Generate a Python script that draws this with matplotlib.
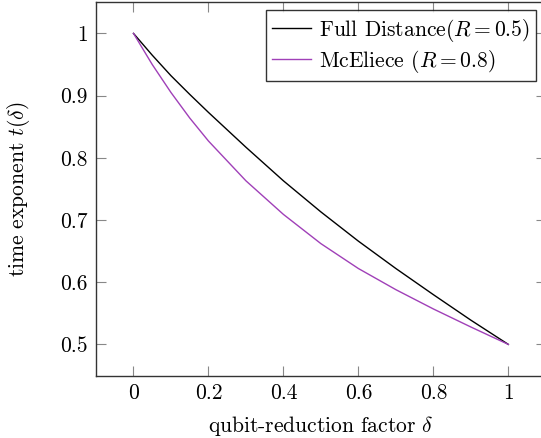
import matplotlib
matplotlib.use("Agg")
import matplotlib.pyplot as plt

# values
delta = [0.0, 0.05, 0.1, 0.15, 0.2, 0.3, 0.4, 0.5, 0.6, 0.7, 0.8, 0.9, 1.0]
t_full = [1.0, 0.965, 0.932, 0.902, 0.873, 0.817, 0.763, 0.713, 0.666, 0.622, 0.580, 0.539, 0.5]
t_mceliece = [1.0, 0.950, 0.905, 0.864, 0.827, 0.763, 0.709, 0.662, 0.622, 0.588, 0.557, 0.528, 0.5]

x_ticks = [0, 0.2, 0.4, 0.6, 0.8, 1]
x_tick_labels = ["0", "0.2", "0.4", "0.6", "0.8", "1"]
y_ticks = [0.5, 0.6, 0.7, 0.8, 0.9, 1.0]
y_tick_labels = ["0.5", "0.6", "0.7", "0.8", "0.9", "1"]

plt.rcParams["font.family"] = "serif"
plt.rcParams["font.serif"] = ["cmr10", "DejaVu Serif"]
plt.rcParams["mathtext.fontset"] = "cm"
plt.rcParams["axes.formatter.use_mathtext"] = True

FS = 15.5
W, H = 541, 438
fig = plt.figure(figsize=(W / 100, H / 100), dpi=100)
# axes box in pixels: left 96, right 546 (cropped by the figure edge), top 2, bottom 375
ax = fig.add_axes([96 / W, 1 - 375.5 / H, (545.8 - 96) / W, (375.5 - 2.3) / H])

ax.plot(delta, t_full, color="black", lw=1.0, label=r"Full Distance($R = 0.5$)")
ax.plot(delta, t_mceliece, color="#a040b8", lw=1.0, label=r"McEliece ($R = 0.8$)")

ax.set_xlim(-0.1, 1.1)
ax.set_ylim(0.45, 1.05)
ax.set_xticks(x_ticks, x_tick_labels)
ax.set_yticks(y_ticks, y_tick_labels)
ax.tick_params(direction="in", length=7, width=0.8, color="#888888",
               top=True, right=True, labelsize=FS, pad=6)
for s in ax.spines.values():
    s.set_linewidth(1.0)
    s.set_color("#333333")

ax.set_xlabel(r"qubit-reduction factor $\delta$", fontsize=FS, va="center")
ax.set_ylabel(r"time exponent $t(\delta)$", fontsize=FS, va="center")
ax.xaxis.set_label_coords(0.5, (375.5 - 426) / 373.2)
ax.yaxis.set_label_coords((18 - 96) / 449.8, 0.5)

leg = ax.legend(loc="upper right", bbox_to_anchor=(0.978, 0.979), borderaxespad=0,
                fontsize=FS, frameon=True, fancybox=False, edgecolor="black",
                handlelength=1.8, handletextpad=0.35, labelspacing=0.2,
                borderpad=0.3)
leg.get_frame().set_linewidth(1.0)

fig.savefig("out.png", dpi=100)
